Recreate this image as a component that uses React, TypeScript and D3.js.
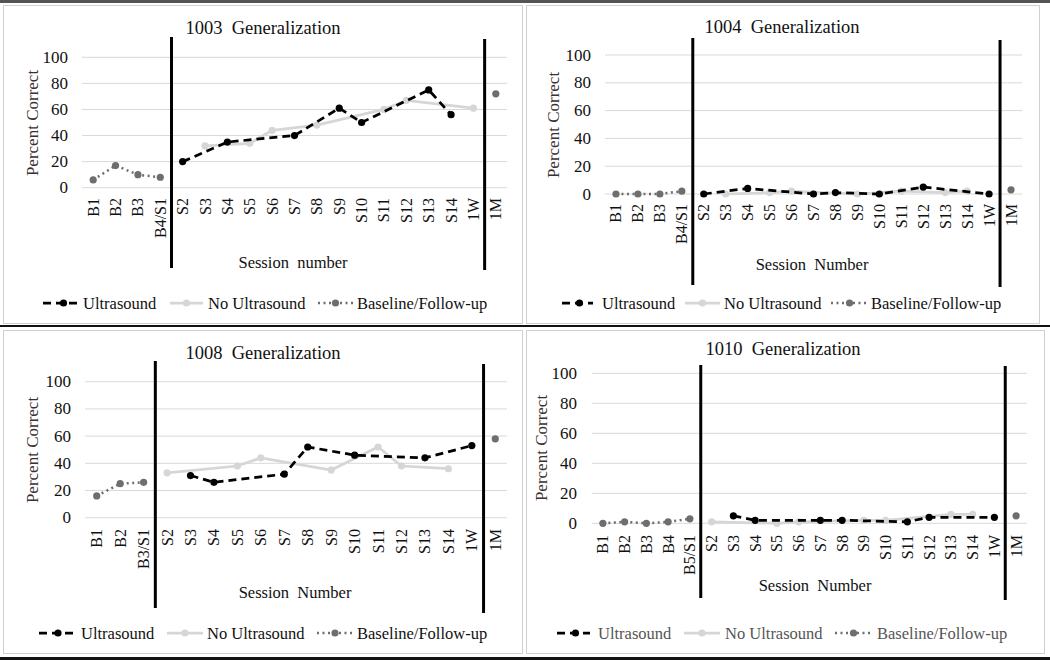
import React from "react";
import * as d3 from "d3";

type V = number | null;
const n = null;

const cats1003 = ["B1","B2","B3","B4/S1","S2","S3","S4","S5","S6","S7","S8","S9","S10","S11","S12","S13","S14","1W","1M"];
const us1003: V[] = [n,n,n,n,20,n,35,n,n,40,n,61,50,n,n,75,56,n,n];
const noUs1003: V[] = [n,n,n,n,n,32,n,34,44,n,48,n,n,60,67,n,n,61,n];
const base1003: V[] = [6,17,10,8,n,n,n,n,n,n,n,n,n,n,n,n,n,n,72];

const cats1004 = ["B1","B2","B3","B4/S1","S2","S3","S4","S5","S6","S7","S8","S9","S10","S11","S12","S13","S14","1W","1M"];
const us1004: V[] = [n,n,n,n,0,n,4,n,n,0,1,n,0,n,5,n,n,0,n];
const noUs1004: V[] = [n,n,n,n,n,0,n,1,2,n,n,0,n,2,n,1,2,n,n];
const base1004: V[] = [0,0,0,2,n,n,n,n,n,n,n,n,n,n,n,n,n,n,3];

const cats1008 = ["B1","B2","B3/S1","S2","S3","S4","S5","S6","S7","S8","S9","S10","S11","S12","S13","S14","1W","1M"];
const us1008: V[] = [n,n,n,n,31,26,n,n,32,52,n,46,n,n,44,n,53,n];
const noUs1008: V[] = [n,n,n,33,n,n,38,44,n,n,35,n,52,38,n,36,n,n];
const base1008: V[] = [16,25,26,n,n,n,n,n,n,n,n,n,n,n,n,n,n,58];

const cats1010 = ["B1","B2","B3","B4","B5/S1","S2","S3","S4","S5","S6","S7","S8","S9","S10","S11","S12","S13","S14","1W","1M"];
const us1010: V[] = [n,n,n,n,n,n,5,2,n,n,2,2,n,n,1,4,n,n,4,n];
const noUs1010: V[] = [n,n,n,n,n,1,n,n,0,1,n,n,2,2,n,n,6,6,n,n];
const base1010: V[] = [0,1,0,1,3,n,n,n,n,n,n,n,n,n,n,n,n,n,n,5];

const yTicks = [0, 20, 40, 60, 80, 100];
const legendLabels = ["Ultrasound", "No Ultrasound", "Baseline/Follow-up"];

const FONT = "'Liberation Serif', 'Times New Roman', serif";
const US_COLOR = "#000000";
const NOUS_COLOR = "#d6d6d6";
const BASE_COLOR = "#6e6e6e";
const GRID = "#d9d9d9";
const PRE = { whiteSpace: "pre" as const };

interface Layout {
  plotX: [number, number];
  y0: number;
  y100: number;
  sepBaseIdx: number;
  sep: [[number, number], [number, number]];
  title: [number, number];
  yTickX: number;
  yTitle: [number, number];
  xTickTop: number;
  xTitle: [number, number];
  legendY: number;
  legend: number[];
  legendColor: string;
}

interface PanelProps {
  title: string;
  xTitle: string;
  cats: string[];
  us: V[];
  noUs: V[];
  base: V[];
  L: Layout;
}

function Panel({ title, xTitle, cats, us, noUs, base, L }: PanelProps) {
  const x = d3.scaleBand<string>().domain(cats).range(L.plotX).padding(0);
  const cx = (c: string) => (x(c) as number) + x.bandwidth() / 2;
  const y = d3.scaleLinear().domain([0, 100]).range([L.y0, L.y100]);

  const pts = (vals: V[]) =>
    vals
      .map((v, i) => (v === null ? null : ([cx(cats[i]), y(v)] as [number, number])))
      .filter((p): p is [number, number] => p !== null);

  const line = d3.line<[number, number]>().x((d) => d[0]).y((d) => d[1]);

  const basePrePts = pts(base.slice(0, L.sepBaseIdx + 1));
  const baseAll = pts(base);

  const sep1 = (cx(cats[L.sepBaseIdx]) + cx(cats[L.sepBaseIdx + 1])) / 2;
  const sep2 = (cx(cats[cats.length - 2]) + cx(cats[cats.length - 1])) / 2;

  const usPts = pts(us);
  const nuPts = pts(noUs);

  const lg = L.legend;
  return (
    <g>
      {yTicks.map((t) => (
        <g key={t}>
          <line x1={L.plotX[0]} x2={L.plotX[1]} y1={y(t)} y2={y(t)} stroke={GRID} strokeWidth={1} />
          <text x={L.yTickX} y={y(t)} textAnchor="end" dominantBaseline="central" fontSize={17} fontFamily={FONT} fill="#111">
            {t}
          </text>
        </g>
      ))}
      <text x={L.title[0]} y={L.title[1]} textAnchor="middle" dominantBaseline="central" fontSize={18.5} fontFamily={FONT} fill="#111" style={PRE}>
        {title}
      </text>
      <text
        transform={`translate(${L.yTitle[0]},${L.yTitle[1]}) rotate(-90)`}
        textAnchor="middle"
        dominantBaseline="central"
        fontSize={17}
        fontFamily={FONT}
        fill="#3a3030"
      >
        Percent Correct
      </text>
      {cats.map((c) => (
        <text
          key={c}
          transform={`translate(${cx(c)},${L.xTickTop}) rotate(-90)`}
          textAnchor="end"
          dominantBaseline="central"
          fontSize={16}
          fontFamily={FONT}
          fill="#111"
        >
          {c}
        </text>
      ))}
      <text x={L.xTitle[0]} y={L.xTitle[1]} textAnchor="middle" dominantBaseline="central" fontSize={16.5} fontFamily={FONT} fill="#111" style={PRE}>
        {xTitle}
      </text>

      <line x1={sep1} x2={sep1} y1={L.sep[0][0]} y2={L.sep[0][1]} stroke="#000" strokeWidth={3} />
      <line x1={sep2} x2={sep2} y1={L.sep[1][0]} y2={L.sep[1][1]} stroke="#000" strokeWidth={3} />

      <path d={line(nuPts) || ""} fill="none" stroke={NOUS_COLOR} strokeWidth={2.75} />
      {nuPts.map((p, i) => (
        <circle key={"n" + i} cx={p[0]} cy={p[1]} r={3.6} fill={NOUS_COLOR} />
      ))}
      <path d={line(usPts) || ""} fill="none" stroke={US_COLOR} strokeWidth={2.75} strokeDasharray="8,5" />
      {usPts.map((p, i) => (
        <circle key={"u" + i} cx={p[0]} cy={p[1]} r={3.6} fill={US_COLOR} />
      ))}
      <path d={line(basePrePts) || ""} fill="none" stroke={BASE_COLOR} strokeWidth={2.5} strokeDasharray="2,3.5" />
      {baseAll.map((p, i) => (
        <circle key={"b" + i} cx={p[0]} cy={p[1]} r={3.6} fill={BASE_COLOR} />
      ))}

      <line x1={lg[0]} x2={lg[1]} y1={L.legendY} y2={L.legendY} stroke={US_COLOR} strokeWidth={2.75} strokeDasharray="8,5" />
      <circle cx={(lg[0] + lg[1]) / 2 + 2} cy={L.legendY} r={3.6} fill={US_COLOR} />
      <text x={lg[2]} y={L.legendY} dominantBaseline="central" fontSize={16.5} fontFamily={FONT} fill={L.legendColor}>
        {legendLabels[0]}
      </text>
      <line x1={lg[3]} x2={lg[4]} y1={L.legendY} y2={L.legendY} stroke={NOUS_COLOR} strokeWidth={2.75} />
      <circle cx={(lg[3] + lg[4]) / 2} cy={L.legendY} r={3.6} fill={NOUS_COLOR} />
      <text x={lg[5]} y={L.legendY} dominantBaseline="central" fontSize={16.5} fontFamily={FONT} fill={L.legendColor}>
        {legendLabels[1]}
      </text>
      <line x1={lg[6]} x2={lg[7]} y1={L.legendY} y2={L.legendY} stroke={BASE_COLOR} strokeWidth={2.5} strokeDasharray="2,3.5" />
      <circle cx={(lg[6] + lg[7]) / 2} cy={L.legendY} r={3.6} fill={BASE_COLOR} />
      <text x={lg[8]} y={L.legendY} dominantBaseline="central" fontSize={16.5} fontFamily={FONT} fill={L.legendColor}>
        {legendLabels[2]}
      </text>
    </g>
  );
}

const L1: Layout = {
  plotX: [82, 507], y0: 187.7, y100: 57.3, sepBaseIdx: 3,
  sep: [[37, 268], [39, 270]], title: [263, 28], yTickX: 68, yTitle: [32, 123],
  xTickTop: 198, xTitle: [293, 262], legendY: 303,
  legend: [43, 80, 83, 170, 203, 208, 318, 353, 357], legendColor: "#111",
};
const L2: Layout = {
  plotX: [605, 1022], y0: 194, y100: 55, sepBaseIdx: 3,
  sep: [[38, 285], [40, 287]], title: [782, 27], yTickX: 591, yTitle: [553, 125],
  xTickTop: 204, xTitle: [812, 264], legendY: 303,
  legend: [562, 593, 602, 685, 720, 724, 831, 868, 871], legendColor: "#111",
};
const L3: Layout = {
  plotX: [85, 507], y0: 517.7, y100: 381.7, sepBaseIdx: 2,
  sep: [[361, 608], [364, 613]], title: [263, 353], yTickX: 71, yTitle: [32, 450],
  xTickTop: 529, xTitle: [295, 592], legendY: 633,
  legend: [39, 73, 81, 167, 203, 207, 317, 353, 357], legendColor: "#111",
};
const L4: Layout = {
  plotX: [592, 1027], y0: 523.3, y100: 373.3, sepBaseIdx: 4,
  sep: [[365, 598], [366, 600]], title: [783, 349], yTickX: 577, yTitle: [541, 448],
  xTickTop: 535, xTitle: [815, 585], legendY: 633,
  legend: [557, 590, 598, 684, 720, 725, 835, 872, 877], legendColor: "#555",
};

export default function App() {
  return (
    <svg
      width={1050}
      height={661}
      style={{ position: "absolute", left: 0, top: 0, background: "#fff" }}
    >
      <rect x={0} y={0} width={1050} height={661} fill="#fff" />
      <rect x={0} y={0} width={1050} height={3} fill="#555" />
      <rect x={3.5} y={5.5} width={519} height={318} fill="none" stroke="#d0d0d0" />
      <rect x={526.5} y={5.5} width={513} height={318} fill="none" stroke="#d0d0d0" />
      <rect x={0} y={325} width={1050} height={2} fill="#111" />
      <rect x={3.5} y={330.5} width={519} height={323} fill="none" stroke="#d0d0d0" />
      <rect x={526.5} y={330.5} width={518} height={323} fill="none" stroke="#d0d0d0" />
      <rect x={0} y={657} width={1050} height={3} fill="#111" />

      <Panel title="1003  Generalization" xTitle="Session  number" cats={cats1003} us={us1003} noUs={noUs1003} base={base1003} L={L1} />
      <Panel title="1004  Generalization" xTitle="Session  Number" cats={cats1004} us={us1004} noUs={noUs1004} base={base1004} L={L2} />
      <Panel title="1008  Generalization" xTitle="Session  Number" cats={cats1008} us={us1008} noUs={noUs1008} base={base1008} L={L3} />
      <Panel title="1010  Generalization" xTitle="Session  Number" cats={cats1010} us={us1010} noUs={noUs1010} base={base1010} L={L4} />
    </svg>
  );
}
